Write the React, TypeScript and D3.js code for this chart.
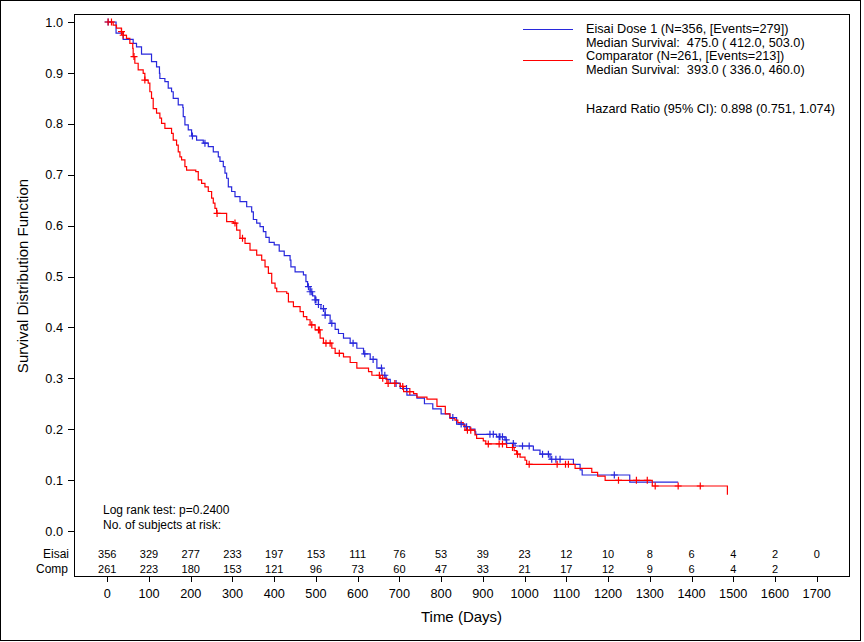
import React from "react";
import * as d3 from "d3";

// ---- data ----
const eisaiTime = [0, 21, 38, 62, 70, 82, 106, 118, 125, 126, 138, 146, 154, 158, 170, 181, 182, 186, 194, 202, 214, 230, 242, 254, 266, 270, 278, 282, 286, 290, 298, 306, 318, 334, 346, 350, 358, 366, 374, 380, 388, 400, 412, 424, 438, 440, 450, 470, 476, 480, 486, 492, 498, 506, 512, 522, 534, 546, 554, 566, 582, 598, 614, 630, 646, 658, 668, 678, 702, 718, 742, 760, 780, 800, 821, 837, 857, 869, 881, 883, 933, 953, 957, 977, 1021, 1037, 1061, 1117, 1133, 1138, 1252, 1368];
const eisaiSurv = [1.0, 0.978, 0.966, 0.958, 0.951, 0.937, 0.922, 0.912, 0.899, 0.889, 0.883, 0.870, 0.863, 0.850, 0.837, 0.832, 0.814, 0.798, 0.788, 0.776, 0.768, 0.762, 0.755, 0.745, 0.735, 0.726, 0.716, 0.703, 0.693, 0.676, 0.667, 0.657, 0.647, 0.637, 0.627, 0.612, 0.605, 0.598, 0.588, 0.577, 0.567, 0.562, 0.550, 0.541, 0.532, 0.519, 0.509, 0.503, 0.490, 0.480, 0.470, 0.462, 0.454, 0.445, 0.437, 0.424, 0.408, 0.396, 0.388, 0.379, 0.369, 0.359, 0.348, 0.337, 0.320, 0.306, 0.298, 0.290, 0.280, 0.267, 0.261, 0.250, 0.240, 0.230, 0.223, 0.210, 0.205, 0.200, 0.195, 0.190, 0.185, 0.179, 0.172, 0.167, 0.159, 0.151, 0.141, 0.131, 0.120, 0.110, 0.096, 0.096];
const eisaiCensor = [2, 204, 234, 482, 486, 490, 498, 500, 506, 518, 522, 538, 589, 617, 637, 657, 665, 692, 717, 828, 848, 861, 917, 925, 939, 941, 947, 956, 973, 995, 1011, 1043, 1057, 1065, 1075, 1085, 1215];

const compTime = [0, 14, 22, 34, 38, 46, 54, 61, 62, 66, 74, 86, 90, 98, 102, 106, 110, 118, 126, 130, 138, 154, 158, 166, 170, 174, 178, 186, 190, 212, 218, 226, 234, 242, 250, 254, 258, 262, 286, 302, 310, 318, 330, 342, 358, 370, 378, 386, 394, 402, 406, 430, 434, 446, 462, 470, 478, 486, 498, 510, 518, 538, 546, 566, 582, 598, 626, 634, 654, 670, 702, 710, 734, 742, 766, 790, 810, 821, 833, 840, 853, 857, 881, 885, 901, 907, 957, 975, 981, 989, 1001, 1005, 1121, 1161, 1175, 1193, 1306, 1486];
const compSurv = [1.0, 0.994, 0.988, 0.981, 0.974, 0.968, 0.958, 0.948, 0.932, 0.919, 0.906, 0.899, 0.886, 0.880, 0.863, 0.850, 0.830, 0.821, 0.811, 0.801, 0.791, 0.781, 0.768, 0.758, 0.745, 0.735, 0.729, 0.716, 0.709, 0.706, 0.690, 0.683, 0.676, 0.667, 0.654, 0.644, 0.634, 0.624, 0.608, 0.605, 0.591, 0.575, 0.565, 0.552, 0.542, 0.532, 0.519, 0.506, 0.487, 0.477, 0.470, 0.467, 0.450, 0.441, 0.431, 0.421, 0.415, 0.405, 0.395, 0.379, 0.369, 0.359, 0.349, 0.342, 0.331, 0.320, 0.313, 0.306, 0.300, 0.290, 0.284, 0.274, 0.270, 0.263, 0.259, 0.245, 0.230, 0.221, 0.218, 0.213, 0.208, 0.198, 0.189, 0.182, 0.177, 0.171, 0.164, 0.158, 0.151, 0.145, 0.139, 0.131, 0.123, 0.115, 0.108, 0.0996, 0.0884, 0.071];
const compCensor = [2, 10, 34, 38, 64, 90, 263, 306, 324, 490, 506, 508, 524, 534, 556, 652, 660, 673, 689, 708, 725, 863, 871, 913, 939, 947, 971, 983, 1011, 1078, 1098, 1105, 1225, 1268, 1294, 1313, 1368, 1421];

const xTicks = [0, 100, 200, 300, 400, 500, 600, 700, 800, 900, 1000, 1100, 1200, 1300, 1400, 1500, 1600, 1700];
const yTicks = [0, 0.1, 0.2, 0.3, 0.4, 0.5, 0.6, 0.7, 0.8, 0.9, 1.0];
const eisaiRisk = [356, 329, 277, 233, 197, 153, 111, 76, 53, 39, 23, 12, 10, 8, 6, 4, 2, 0];
const compRisk = [261, 223, 180, 153, 121, 96, 73, 60, 47, 33, 21, 17, 12, 9, 6, 4, 2];

const legendLines = [
  "Eisai Dose 1 (N=356, [Events=279])",
  "Median Survival:\u00A0\u00A0475.0 (\u00A0412.0, 503.0)",
  "Comparator (N=261, [Events=213])",
  "Median Survival:\u00A0\u00A0393.0 (\u00A0336.0, 460.0)",
];
const hazardText = "Hazard Ratio (95% CI): 0.898 (0.751, 1.074)";

const BLUE = "#2828DC";
const RED = "#FF0000";
const FONT = "'Liberation Sans', Arial, sans-serif";

export default function App() {
  const W = 864, H = 642;
  const left = 74, right = 849, top = 14, bottom = 576;
  const x = d3.scaleLinear().domain([0, 1700]).range([107.3, 816.7]);
  const y = d3.scaleLinear().domain([0, 1]).range([531, 22]);

  const line = d3
    .line<[number, number]>()
    .x((d) => x(d[0]))
    .y((d) => y(d[1]))
    .curve(d3.curveStepAfter);

  const pts = (t: number[], s: number[]) => t.map((v, i) => [v, s[i]] as [number, number]);
  const survAt = (t: number[], s: number[], time: number) => {
    let v = s[0];
    for (let i = 0; i < t.length; i++) if (t[i] <= time) v = s[i];
    return v;
  };
  const censorPath = (times: number[], t: number[], s: number[]) =>
    times
      .map((c) => {
        const cx = x(c), cy = y(survAt(t, s, c));
        return `M${cx - 3.5},${cy}h7M${cx},${cy - 3.5}v7`;
      })
      .join("");

  return (
    <svg width={W} height={H} style={{ position: "absolute", left: 0, top: 0, background: "#fff" }} fontFamily={FONT}>
      <rect x={0.5} y={0.5} width={860} height={640} fill="#fff" stroke="#000" />
      {/* plot frame */}
      <rect x={left + 0.5} y={top + 0.5} width={right - left} height={bottom - top} fill="none" stroke="#000" />

      {/* y axis ticks */}
      {yTicks.map((v) => (
        <g key={v}>
          <line x1={left - 6} x2={left} y1={Math.round(y(v)) + 0.5} y2={Math.round(y(v)) + 0.5} stroke="#000" />
          <text x={63} y={y(v) + 4.6} textAnchor="end" fontSize={12.7} fill="#000">
            {v.toFixed(1)}
          </text>
        </g>
      ))}
      <text transform="translate(28,276) rotate(-90)" textAnchor="middle" fontSize={15} fill="#000">
        Survival Distribution Function
      </text>

      {/* x axis ticks */}
      {xTicks.map((v) => (
        <g key={v}>
          <line x1={Math.round(x(v)) + 0.5} x2={Math.round(x(v)) + 0.5} y1={bottom} y2={bottom + 6} stroke="#000" />
          <text x={x(v)} y={597.5} textAnchor="middle" fontSize={12.7} fill="#000">
            {v}
          </text>
        </g>
      ))}
      <text x={461.5} y={621.7} textAnchor="middle" fontSize={15} fill="#000">
        Time (Days)
      </text>

      {/* curves */}
      <path d={line(pts(eisaiTime, eisaiSurv)) || ""} fill="none" stroke={BLUE} strokeWidth={1.2} />
      <path d={line(pts(compTime, compSurv)) || ""} fill="none" stroke={RED} strokeWidth={1.2} />
      <path d={censorPath(eisaiCensor, eisaiTime, eisaiSurv)} fill="none" stroke={BLUE} strokeWidth={1.2} />
      <path d={censorPath(compCensor, compTime, compSurv)} fill="none" stroke={RED} strokeWidth={1.2} />

      {/* legend */}
      <line x1={523} x2={573} y1={29.5} y2={29.5} stroke={BLUE} />
      <line x1={523} x2={573} y1={60.5} y2={60.5} stroke={RED} />
      {legendLines.map((s, i) => (
        <text key={i} x={586} y={33 + i * 13.5} fontSize={12.7} fill="#000">
          {s}
        </text>
      ))}
      <text x={586} y={113.3} fontSize={12.7} fill="#000">
        {hazardText}
      </text>

      {/* log rank / risk table */}
      <text x={103} y={513.5} fontSize={12} fill="#000">Log rank test: p=0.2400</text>
      <text x={103} y={529} fontSize={12} fill="#000">No. of subjects at risk:</text>
      <text x={69} y={557.5} textAnchor="end" fontSize={12} fill="#000">Eisai</text>
      <text x={68} y={573} textAnchor="end" fontSize={12} fill="#000">Comp</text>
      {eisaiRisk.map((v, i) => (
        <text key={"e" + i} x={x(xTicks[i])} y={557.5} textAnchor="middle" fontSize={11} fill="#000">
          {v}
        </text>
      ))}
      {compRisk.map((v, i) => (
        <text key={"c" + i} x={x(xTicks[i])} y={573} textAnchor="middle" fontSize={11} fill="#000">
          {v}
        </text>
      ))}
    </svg>
  );
}
